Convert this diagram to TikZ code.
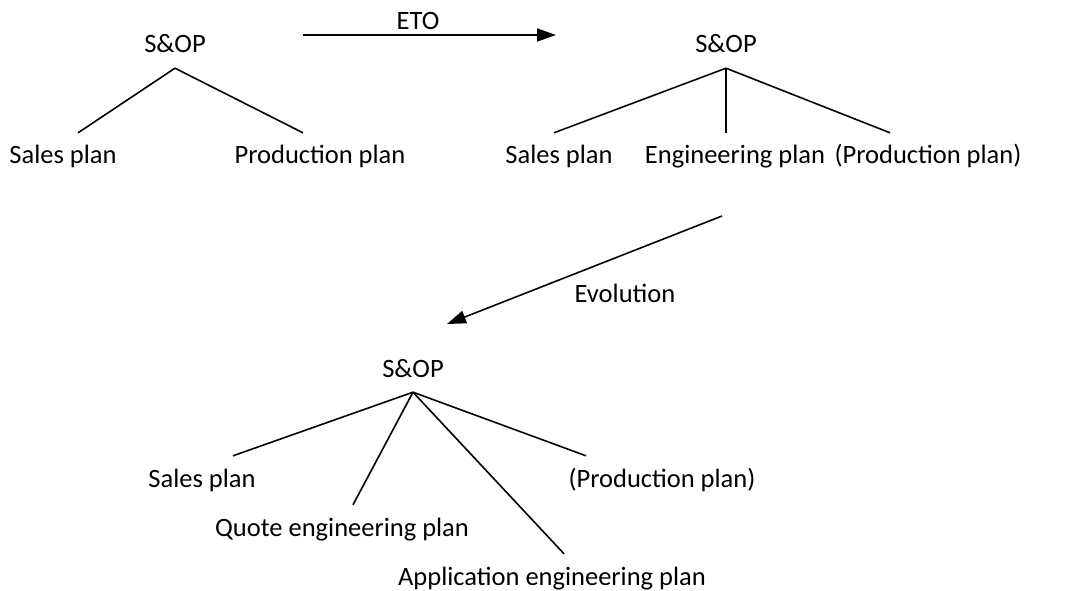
\documentclass[tikz,border=0pt]{standalone}
\usepackage{fontspec}
\setmainfont{Carlito}
\usetikzlibrary{arrows.meta,calc}

\tikzset{
  root/.style={inner xsep=2pt, inner ysep=15pt, text height=18pt, text depth=0pt},
  leaf/.style={inner xsep=5pt, inner ysep=13pt, text height=18pt, text depth=6pt},
  branch/.style={line width=1.6pt},
  flow/.style={line width=1.6pt, -{Triangle[length=19pt,width=13pt]}}
}

\begin{document}
\begin{tikzpicture}[x=1pt, y=-1pt, font=\fontsize{26.5}{30}\selectfont]
		\useasboundingbox (0,0) rectangle (1088,591);
		% before
		\node[root] (sop1) at (175,44) {S\&OP};
		\node[leaf] (sales1) at (63,158) {Sales plan};
		\node[leaf] (prod1) at (320,158) {Production plan};
		\draw[branch] (sop1.south) -- ([xshift=15pt]sales1.north);
		\draw[branch] (sop1.south) -- ([xshift=-17pt]prod1.north);
		% ETO
		\coordinate (eto-a) at (303,35);
		\coordinate (eto-b) at (556,35);
		\draw[flow] (eto-a) -- (eto-b);
		\node (eto) at (418,21) {ETO};
		% after ETO
		\node[root] (sop2) at (726,44) {S\&OP};
		\node[leaf] (sales2) at (559,158) {Sales plan};
		\node[leaf] (eng2) at (735,158) {Engineering plan};
		\node[leaf] (prod2) at (928,158) {(Production plan)};
		\draw[branch] (sop2.south) -- ([xshift=-5pt]sales2.north);
		\draw[branch] (sop2.south) -- ([xshift=-9pt]eng2.north);
		\draw[branch] (sop2.south) -- ([xshift=-38pt]prod2.north);
		% evolution
		\coordinate (evo-a) at (722,216);
		\coordinate (evo-b) at (447,324);
		\draw[flow] (evo-a) -- (evo-b);
		\node (evo) at (625,293) {Evolution};
		% after evolution
		\node[root] (sop3) at (413,368) {S\&OP};
		\node[leaf] (sales3) at (202,481) {Sales plan};
		\node[leaf] (quote3) at (342,530) {Quote engineering plan};
		\node[leaf] (appl3) at (552,579) {Application engineering plan};
		\node[leaf] (prod3) at (662,481) {(Production plan)};
		\draw[branch] (sop3.south) -- ([xshift=31pt]sales3.north);
		\draw[branch] (sop3.south) -- ([xshift=11pt]quote3.north);
		\draw[branch] (sop3.south) -- ([xshift=12pt]appl3.north);
		\draw[branch] (sop3.south) -- ([xshift=-76pt]prod3.north);
\end{tikzpicture}
\end{document}
